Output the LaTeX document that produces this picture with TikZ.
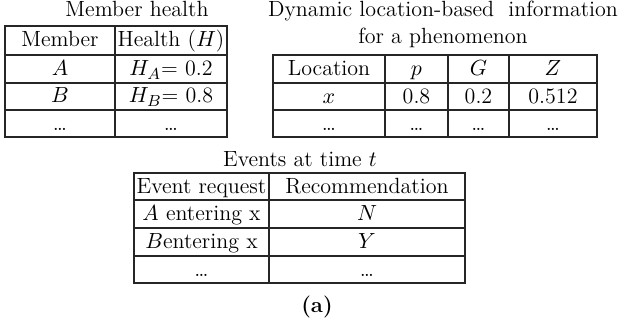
\documentclass[tikz,border=0pt]{standalone}
\usepackage{amsmath,amssymb}
\usepackage{tikz}
\usetikzlibrary{positioning, calc}

\tikzset{
    grid/.style={line width=0.9pt, black!85},
    cell/.style={anchor=base, inner sep=1pt},
    title/.style={anchor=base, inner sep=1pt},
}

\begin{document}
\begin{tikzpicture}[x=0.5pt, y=-0.5pt, font=\fontsize{11}{13.2}\selectfont]
        \useasboundingbox (0,0) rectangle (629,325);

        % ==========================================
        % Member health (top left)
        % ==========================================
        \node[title] (mhTitle) at (137,17) {Member health};

        % Grid
        \draw[grid] (5,26) rectangle (227,137);
        \draw[grid] (115,26) -- (115,137);
        \foreach \y in {55,83,110} {
            \draw[grid] (5,\y) -- (227,\y);
        }

        % Cells
        \node[cell] (mhMember) at (60,47)  {Member};
        \node[cell] (mhHealth) at (171,47) {Health ($H$)};
        \node[cell] (mhA)      at (60,76)  {$A$};
        \node[cell] (mhHA)     at (171,76) {$H_{A}$= 0.2};
        \node[cell] (mhB)      at (60,103) {$B$};
        \node[cell] (mhHB)     at (171,103) {$H_{B}$= 0.8};
        \node[cell] (mhDotsA)  at (60,131) {\dots};
        \node[cell] (mhDotsB)  at (171,131) {\dots};

        % ==========================================
        % Location-based information (top right)
        % ==========================================
        \node[title] (locTitleA) at (443,17) {Dynamic location-based\ \ information};
        \node[title] (locTitleB) at (443,44) {for a phenomenon};

        % Grid
        \draw[grid] (273,55) rectangle (597,137);
        \foreach \x in {385,448,509} {
            \draw[grid] (\x,55) -- (\x,137);
        }
        \foreach \y in {83,110} {
            \draw[grid] (273,\y) -- (597,\y);
        }

        % Cells
        \node[cell] (locHead)  at (329,76)   {Location};
        \node[cell] (locHeadP) at (416.5,76) {$p$};
        \node[cell] (locHeadG) at (478.5,76) {$G$};
        \node[cell] (locHeadZ) at (553,76)   {$Z$};
        \node[cell] (locX)     at (329,104)   {$x$};
        \node[cell] (locP)     at (416.5,104) {0.8};
        \node[cell] (locG)     at (478.5,104) {0.2};
        \node[cell] (locZ)     at (553,104)   {0.512};
        \node[cell] (locDotsA) at (329,131)   {\dots};
        \node[cell] (locDotsB) at (416.5,131) {\dots};
        \node[cell] (locDotsC) at (478.5,131) {\dots};
        \node[cell] (locDotsD) at (553,131)   {\dots};

        % ==========================================
        % Events at time t (bottom)
        % ==========================================
        \node[title] (evTitle) at (300,167) {Events at time $t$};

        % Grid
        \draw[grid] (134,173) rectangle (465,283);
        \draw[grid] (269,173) -- (269,283);
        \foreach \y in {200,228,256} {
            \draw[grid] (134,\y) -- (465,\y);
        }

        % Cells
        \node[cell] (evRequest) at (201.5,194) {Event request};
        \node[cell] (evRecomm)  at (367,194)   {Recommendation};
        \node[cell] (evA)       at (201.5,221) {$A$ entering x};
        \node[cell] (evN)       at (367,221)   {$N$};
        \node[cell] (evB)       at (201.5,249) {$B$entering x};
        \node[cell] (evY)       at (367,249)   {$Y$};
        \node[cell] (evDotsA)   at (201.5,277) {\dots};
        \node[cell] (evDotsB)   at (367,277)   {\dots};

        % Caption
        \node[title] (caption) at (317,313) {\textbf{(a)}};

\end{tikzpicture}
\end{document}
